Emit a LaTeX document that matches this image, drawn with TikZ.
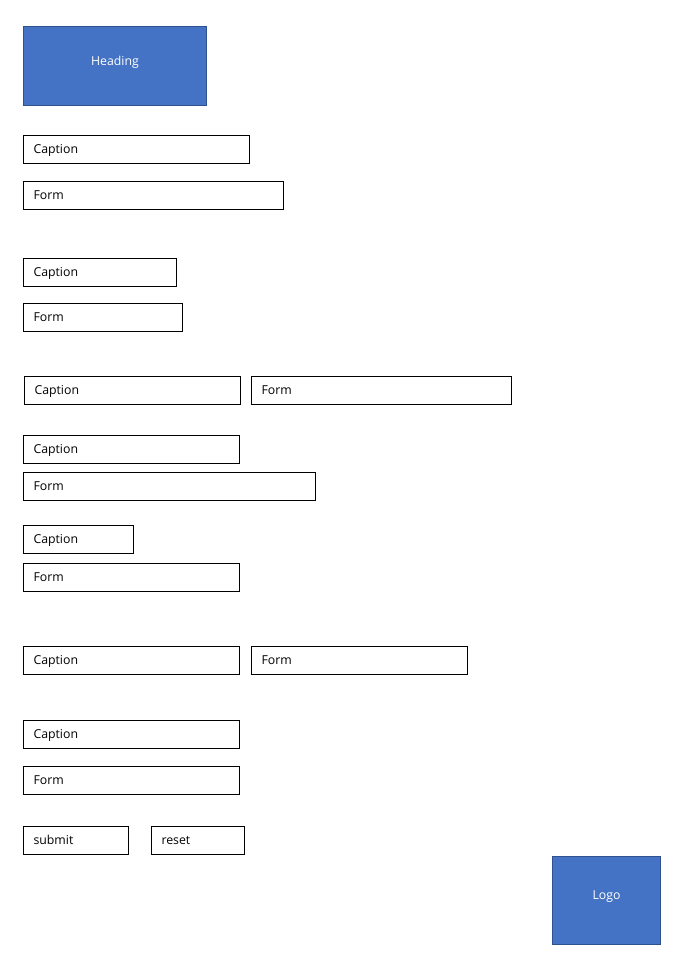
\documentclass[tikz,border=0pt]{standalone}
\usepackage{fontspec}
\setmainfont{Open Sans}
\definecolor{boxblue}{HTML}{4472C4}
\definecolor{boxedge}{HTML}{2F528F}
\begin{document}
\begin{tikzpicture}[x=1pt,y=-1pt,
  fbox/.style={draw=black, line width=1pt, anchor=north west, minimum height=28pt,
    inner xsep=10pt, inner ysep=0pt, align=left, text width=#1,
    text height=9pt, text depth=0.5pt,
    font=\fontsize{12.3}{14}\selectfont},
  bluebox/.style={draw=boxedge, fill=boxblue, line width=1pt, anchor=north west, inner sep=0pt},
  bluetext/.style={text=white, font=\fontsize{12.3}{14}\selectfont, inner sep=0pt,
    text height=9pt, text depth=0pt}]
\useasboundingbox[fill=white] (0,0) rectangle (686,964);
\node[bluebox, minimum width=183pt, minimum height=79pt] (heading) at (23,26) {};
\node[bluetext] (headingtext) at ([yshift=5pt]heading.center) {Heading};
\node[fbox=206pt] (cap1) at (23,135) {Caption};
\node[fbox=240pt] (form1) at (23,181) {Form};
\node[fbox=133pt] (cap2) at (23,258) {Caption};
\node[fbox=139pt] (form2) at (23,303) {Form};
\node[fbox=196pt] (cap3) at (24,376) {Caption};
\node[fbox=240pt] (form3) at (251,376) {Form};
\node[fbox=196pt] (cap4) at (23,435) {Caption};
\node[fbox=272pt] (form4) at (23,472) {Form};
\node[fbox=90pt] (cap5) at (23,525) {Caption};
\node[fbox=196pt] (form5) at (23,563) {Form};
\node[fbox=196pt] (cap6) at (23,646) {Caption};
\node[fbox=196pt] (form6) at (251,646) {Form};
\node[fbox=196pt] (cap7) at (23,720) {Caption};
\node[fbox=196pt] (form7) at (23,766) {Form};
\node[fbox=85pt] (submit) at (23,826) {submit};
\node[fbox=73pt] (reset) at (151,826) {reset};
\node[bluebox, minimum width=108pt, minimum height=88pt] (logo) at (552,856) {};
\node[bluetext] (logotext) at ([yshift=6pt]logo.center) {Logo};
\end{tikzpicture}
\end{document}
